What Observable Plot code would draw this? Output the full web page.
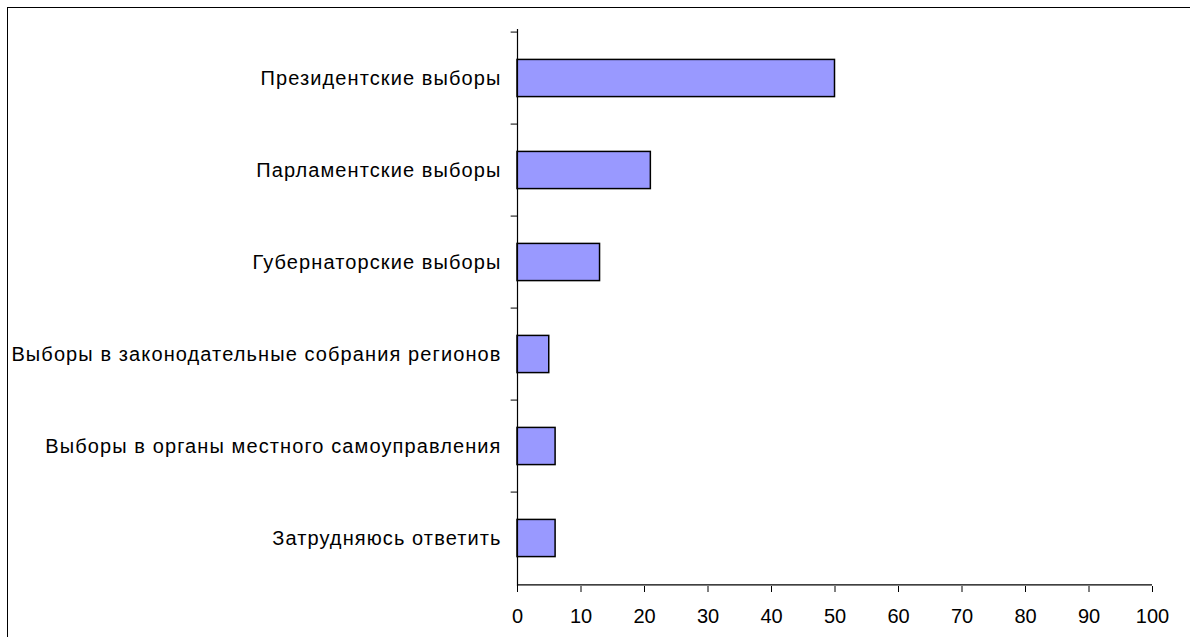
<!DOCTYPE html>
<html>
<head>
<meta charset="utf-8">
<script src="https://cdn.jsdelivr.net/npm/d3@7"></script>
<script src="https://cdn.jsdelivr.net/npm/@observablehq/plot@0.6"></script>
<style>
  html, body { margin: 0; padding: 0; background: #fff; }
  #wrap { position: relative; width: 1190px; height: 637px; overflow: hidden; }
  #frame { position: absolute; left: 7px; top: 7px; width: 1200px; height: 650px;
           border-left: 1.5px solid #000; border-top: 1.5px solid #000; box-sizing: border-box; }
  #chart { position: absolute; left: 0; top: 0; }
  #chart g[aria-label="y-axis tick label"] text { letter-spacing: 1.1px; }
</style>
</head>
<body>
<div id="wrap"><div id="frame"></div><div id="chart"></div></div>
<script>
const categories = [
  "Президентские выборы",
  "Парламентские выборы",
  "Губернаторские выборы",
  "Выборы в законодательные собрания регионов",
  "Выборы в органы местного самоуправления",
  "Затрудняюсь ответить"
];
const values = [50, 21, 13, 5, 6, 6];
const xTicks = [0, 10, 20, 30, 40, 50, 60, 70, 80, 90, 100];

const data = categories.map((c, i) => ({category: c, value: values[i]}));

const W = 1190, H = 637;
const mTop = 29, mBottom = 51, mLeft = 517, mRight = 38;
const step = (H - mTop - mBottom) / categories.length;
const barH = 38;
const inset = (step - barH) / 2;

const chart = Plot.plot({
  width: W,
  height: H,
  marginTop: mTop,
  marginBottom: mBottom,
  marginLeft: mLeft,
  marginRight: mRight,
  style: {fontFamily: "'Liberation Sans', Arial, sans-serif", fontSize: "20px", color: "#000", background: "transparent"},
  x: {domain: [0, 100], ticks: xTicks},
  y: {domain: categories, padding: 0},
  marks: [
    Plot.barX(data, {x: "value", y: "category", fill: "#9999FF", stroke: "#000", strokeWidth: 1.5, insetTop: inset, insetBottom: inset}),
    Plot.ruleX([0], {stroke: "#000", strokeWidth: 1.2}),
    Plot.ruleY([categories[categories.length - 1]], {x1: 0, x2: 100, dy: step / 2, stroke: "#000", strokeWidth: 1.2}),
    Plot.ruleY(categories, {x1: -1, x2: 0, dy: -step / 2, stroke: "#000", strokeWidth: 1, clip: false}),
    Plot.axisX({ticks: xTicks, tickSize: 6, tickPadding: 16, label: null, fontSize: 20}),
    Plot.axisY({tickSize: 0, tickPadding: 16, label: null, fontSize: 20})
  ]
});
document.getElementById("chart").appendChild(chart);
</script>
</body>
</html>
